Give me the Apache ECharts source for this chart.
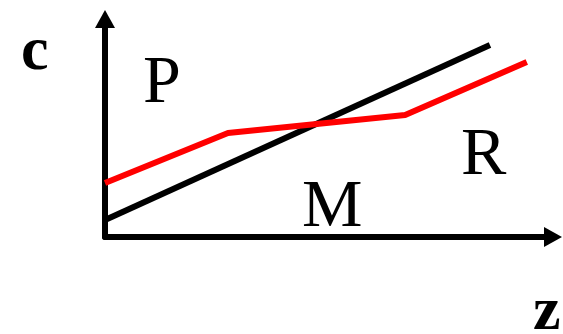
<!DOCTYPE html>
<html>
<head>
<meta charset="utf-8">
<script src="https://cdn.jsdelivr.net/npm/echarts@6/dist/echarts.min.js"></script>
<style>
  html, body { margin: 0; padding: 0; background: #fff; }
  #chart { width: 563px; height: 334px; }
</style>
</head>
<body>
<div id="chart"></div>
<script>
// z runs 0..100 along the x axis, c runs 0..100 up the y axis
const blackLine = [[0, 7.9], [86.7, 89.7]];
const redLine = [[0, 25.2], [27.7, 48.6], [67.6, 57], [95, 81.8]];
const regionLabels = ['P', 'M', 'R'];
const axisNames = ['c', 'z'];

const chart = echarts.init(document.getElementById('chart'));

const serif = '"Liberation Serif", "Times New Roman", Times, serif';

function label(text, left, top, size, bold) {
  return {
    type: 'text',
    left: left,
    top: top,
    style: {
      text: text,
      fontFamily: serif,
      fontSize: size,
      fontWeight: bold ? 'bold' : 'normal',
      fill: '#000'
    }
  };
}

const axisLine = {
  show: true,
  symbol: ['none', 'triangle'],
  symbolSize: [20, 18],
  symbolOffset: [0, 4],
  lineStyle: { color: '#000', width: 6 }
};

let option = {
  animation: false,
  grid: { left: 105, right: 14, top: 23, bottom: 97 },
  xAxis: {
    type: 'value',
    min: 0,
    max: 100,
    axisLine: axisLine,
    axisTick: { show: false },
    axisLabel: { show: false },
    splitLine: { show: false }
  },
  yAxis: {
    type: 'value',
    min: 0,
    max: 100,
    axisLine: axisLine,
    axisTick: { show: false },
    axisLabel: { show: false },
    splitLine: { show: false }
  },
  series: [
    {
      type: 'line',
      data: blackLine,
      symbol: 'none',
      lineStyle: { color: '#000', width: 6 },
      z: 3
    },
    {
      type: 'line',
      data: redLine,
      symbol: 'none',
      lineStyle: { color: '#ff0000', width: 6 },
      z: 4
    }
  ],
  graphic: [
    label(axisNames[0], 21, 22, 62, true),
    label(regionLabels[0], 143, 50, 68, false),
    label(regionLabels[1], 302, 174, 68, false),
    label(regionLabels[2], 461, 122, 68, false),
    label(axisNames[1], 533, 282, 62, true)
  ]
};

chart.setOption(option);
</script>
</body>
</html>
